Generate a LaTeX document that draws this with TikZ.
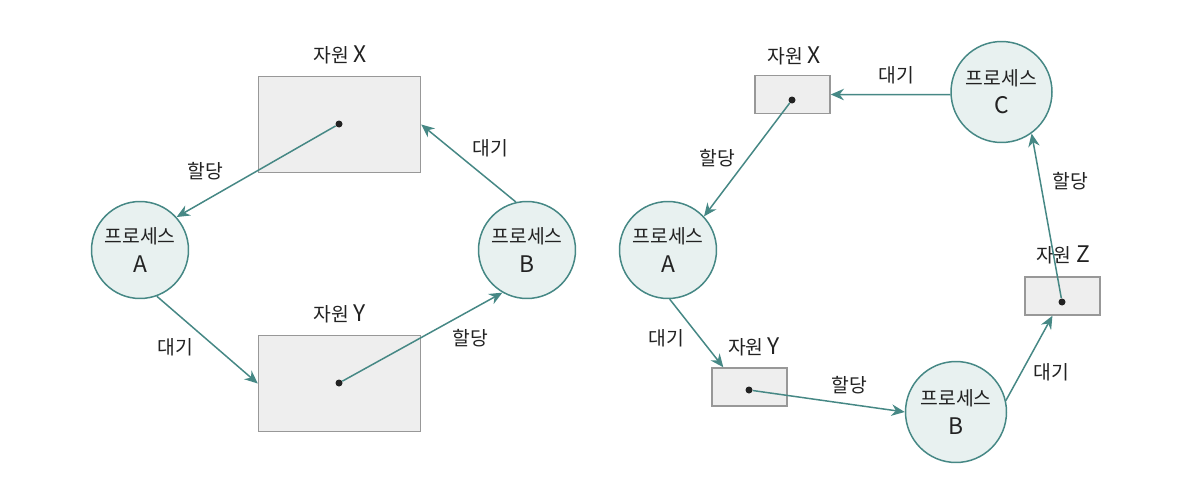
\documentclass[tikz,border=0pt]{standalone}
\usepackage{fontspec}
\setmainfont{Noto Sans CJK KR}
\usetikzlibrary{arrows.meta,positioning}
\definecolor{teal_line}{RGB}{70,136,133}
\definecolor{teal_fill}{RGB}{232,241,240}
\definecolor{box_fill}{RGB}{238,238,238}
\definecolor{box_line}{RGB}{152,152,152}
\definecolor{ink}{RGB}{34,34,34}
\newcommand{\bigletter}[1]{{\fontsize{13}{16}\selectfont #1}}

\begin{document}
\begin{tikzpicture}[
      x=0.02cm, y=-0.02cm,
      proc/.style={
         circle,
         draw=teal_line,
         fill=teal_fill,
         line width=0.85pt,
         inner sep=0pt,
         minimum size=1.94cm,
         align=center,
         text=ink,
         font=\fontsize{11}{16}\selectfont},
      proc_big/.style={
         proc,
         minimum size=2.02cm},
      res_big/.style={
         rectangle,
         draw=box_line,
         fill=box_fill,
         line width=0.85pt,
         minimum width=3.24cm,
         minimum height=1.93cm},
      res_small/.style={
         res_big,
         minimum width=1.5cm,
         minimum height=0.76cm},
      dot/.style={
         circle,
         fill=ink,
         inner sep=0pt,
         minimum size=0.14cm},
      lbl/.style={
         text=ink,
         inner sep=1pt,
         font=\fontsize{11}{13}\selectfont},
      myarrow/.style={
        -{Stealth[length=7.5pt,width=6.5pt]},
        draw=teal_line,
        fill=teal_line,
        line width=0.85pt},
      ]
      \useasboundingbox (0,0) rectangle (1190,480);

      % left picture
      \node[res_big] (rX) at (339.5,124.5) {};
      \node[res_big] (rY) at (339.5,383.5) {};
      \node[proc] (pA) at (140,250) {프로세스\\\bigletter{A}};
      \node[proc] (pB) at (527,250) {프로세스\\\bigletter{B}};
      \node[dot] (dX) at (339,124) {};
      \node[dot] (dY) at (339,383) {};
      \node[lbl] (tX) at (340,55) {자원 \bigletter{X}};
      \node[lbl] (tY) at (340,314) {자원 \bigletter{Y}};

      % right picture
      \node[res_small] (rX2) at (792.5,94.5) {};
      \node[res_small] (rY2) at (749.5,387) {};
      \node[res_small] (rZ2) at (1062.5,296) {};
      \node[proc] (pA2) at (668,250) {프로세스\\\bigletter{A}};
      \node[proc_big] (pB2) at (956,412) {프로세스\\\bigletter{B}};
      \node[proc_big] (pC2) at (1001.5,92) {프로세스\\\bigletter{C}};
      \node[dot] (dX2) at (792,100) {};
      \node[dot] (dY2) at (749,390) {};
      \node[dot] (dZ2) at (1062,302) {};
      \node[lbl] (tX2) at (794,56) {자원 \bigletter{X}};
      \node[lbl] (tY2) at (754,347) {자원 \bigletter{Y}};
      \node[lbl] (tZ2) at (1063,255) {자원 \bigletter{Z}};

    \foreach \i/\j in {% start/end
      dX/pA.42,
      pB.103/rX.east,
      pA.290/rY.west,
      dY/pB.240,
      pC2.183/rX2.east,
      dX2/pA2.43,
      pA2.272/rY2.143,
      dY2/pB2.west,
      pB2.13/rZ2.243,
      dZ2/pC2.306}
      \draw [myarrow] (\i) -- (\j);

    \foreach \n/\x/\y/\txt in {% name/x/y/text
      l1/205/171/할당,
      l2/490/148/대기,
      l3/175/347/대기,
      l4/470/338/할당,
      l5/896/75/대기,
      l6/717/158/할당,
      l7/666/338/대기,
      l8/849/385/할당,
      l9/1051/372/대기,
      l10/1070/181/할당}
      \node[lbl] (\n) at (\x,\y) {\txt};
    \end{tikzpicture}
\end{document}
